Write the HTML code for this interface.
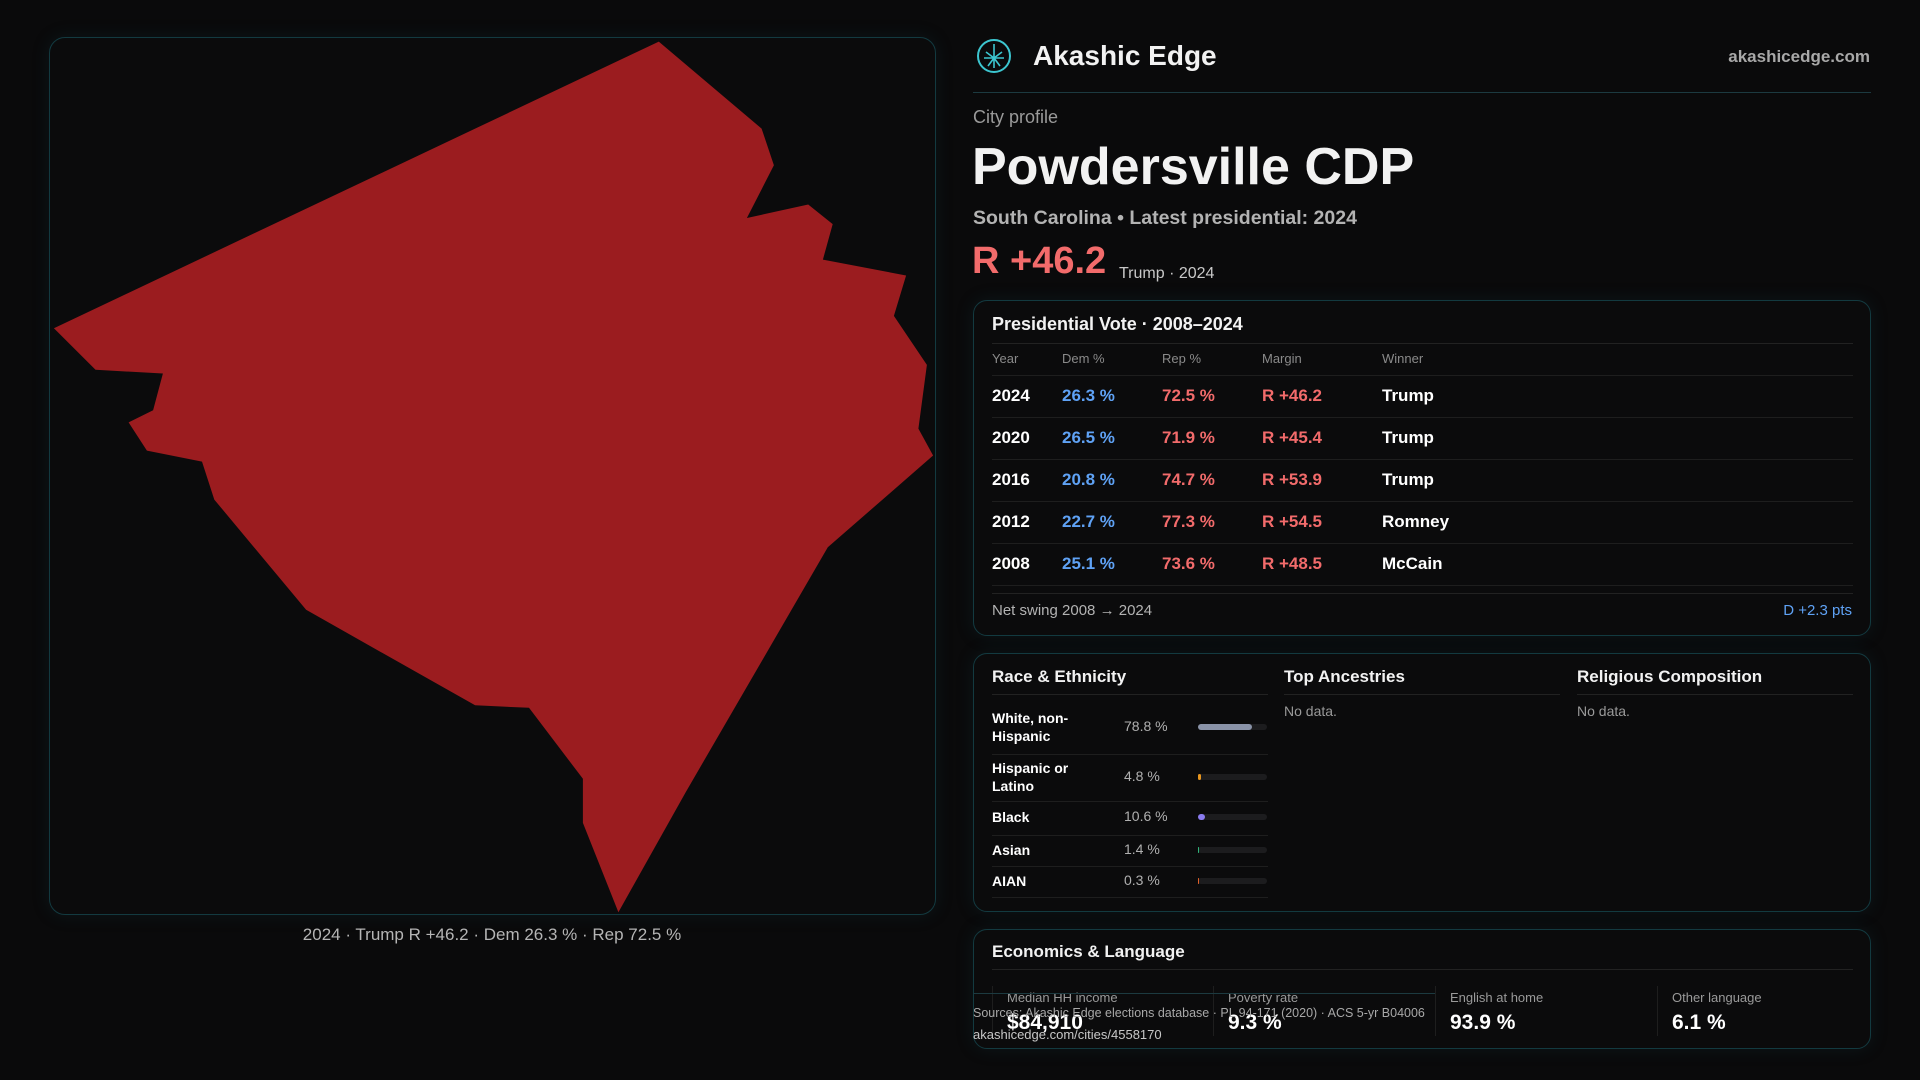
<!DOCTYPE html>
<html><head><meta charset="utf-8">
<style>
*{box-sizing:border-box;margin:0;padding:0}
body{width:1920px;height:1080px;background:#0a0a0b;font-family:"Liberation Sans",sans-serif;color:#f2f2f2;position:relative;overflow:hidden}
.abs{position:absolute;white-space:nowrap}
.panel{position:absolute;border:1px solid #133a40;border-radius:14px;background:#0b0b0c;box-shadow:0 0 18px rgba(20,80,90,.18)}
.red{color:#f26b6b}.blue{color:#5fa2f5}.mut{color:#9a9a9a}
</style></head><body>
<div class="panel" style="left:49px;top:37px;width:887px;height:878px;border-radius:16px"></div>
<svg class="abs" style="left:0;top:0" width="960" height="930">
<polygon id="shape" fill="#9b1c1f"/>
</svg>
<div class="abs mut" style="left:492px;top:925px;transform:translateX(-50%);font-size:17px;color:#b5b5b5">2024 · Trump R +46.2 · Dem 26.3 % · Rep 72.5 %</div>

<svg class="abs" style="left:976px;top:38px" width="36" height="36" viewBox="0 0 36 36"><circle cx="18" cy="18" r="16" fill="none" stroke="#3cc6d0" stroke-width="2"/><path d="M18 6v24M10 14l8 6 8-6M12 28l6-8 6 8M8 20h20" stroke="#3cc6d0" stroke-width="1.6" fill="none"/></svg>
<div class="abs" style="left:1033px;top:40px;font-size:28px;font-weight:bold">Akashic Edge</div>
<div class="abs mut" style="right:50px;top:47px;font-size:17px;font-weight:bold;color:#a8a8a8">akashicedge.com</div>
<div class="abs" style="left:973px;top:92px;width:898px;height:1px;background:#1c3a40"></div>
<div class="abs mut" style="left:973px;top:107px;font-size:18px">City profile</div>
<div class="abs" style="left:972px;top:137px;font-size:52px;font-weight:bold">Powdersville CDP</div>
<div class="abs" style="left:973px;top:207px;font-size:19.5px;font-weight:bold;color:#b3b3b3">South Carolina • Latest presidential: 2024</div>
<div class="abs red" style="left:972px;top:240px;font-size:38px;font-weight:bold">R +46.2</div>
<div class="abs" style="left:1119px;top:265px;font-size:16px;color:#c8c8c8">Trump · 2024</div>

<div class="panel" style="left:973px;top:300px;width:898px;height:336px"></div>
<div class="abs" style="left:992px;top:314px;font-size:18px;font-weight:bold">Presidential Vote · 2008–2024</div>
<div class="abs" style="left:992px;top:343px;width:861px;height:1px;background:#222"></div>
<div id="tbl"></div>
<div class="abs" style="left:992px;top:593px;width:861px;height:1px;background:#222"></div>
<div class="abs" style="left:992px;top:602px;font-size:15px;color:#b3b3b3">Net swing 2008 → 2024</div>
<div class="abs blue" style="right:68px;top:602px;font-size:15px">D +2.3 pts</div>

<div class="panel" style="left:973px;top:653px;width:898px;height:259px"></div>
<div class="abs" style="left:992px;top:667px;font-size:17px;font-weight:bold">Race &amp; Ethnicity</div>
<div class="abs" style="left:1284px;top:667px;font-size:17px;font-weight:bold">Top Ancestries</div>
<div class="abs" style="left:1577px;top:667px;font-size:17px;font-weight:bold">Religious Composition</div>
<div class="abs" style="left:992px;top:694px;width:276px;height:1px;background:#222"></div>
<div class="abs" style="left:1284px;top:694px;width:276px;height:1px;background:#222"></div>
<div class="abs" style="left:1577px;top:694px;width:276px;height:1px;background:#222"></div>
<div class="abs mut" style="left:1284px;top:703px;font-size:14px">No data.</div>
<div class="abs mut" style="left:1577px;top:703px;font-size:14px">No data.</div>
<div id="race"></div>

<div class="panel" style="left:973px;top:929px;width:898px;height:120px"></div>
<div class="abs" style="left:992px;top:942px;font-size:17px;font-weight:bold">Economics &amp; Language</div>
<div class="abs" style="left:992px;top:969px;width:861px;height:1px;background:#222"></div>
<div id="econ"></div>
<div class="abs" style="left:973px;top:993px;width:462px;height:1px;background:#1c3a40"></div>
<div class="abs" style="left:973px;top:1006px;font-size:12.5px;color:#a8a8a8">Sources: Akashic Edge elections database · PL 94-171 (2020) · ACS 5-yr B04006</div>
<div class="abs" style="left:973px;top:1027px;font-size:13px;color:#c8c8c8">akashicedge.com/cities/4558170</div>

<script>
const mapX=[538,622,632,610,660,680,672,740,730,757,750,762,676,560,505,476,476,432,388,250,175,165,120,105,125,133,78,44];
const mapY=[34,105,135,178,167,183,212,225,258,298,350,372,447,647,745,672,636,578,576,498,408,377,368,345,335,305,302,268];
const years=["2024","2020","2016","2012","2008"];
const demPct=[26.3,26.5,20.8,22.7,25.1];
const repPct=[72.5,71.9,74.7,77.3,73.6];
const margins=["R +46.2","R +45.4","R +53.9","R +54.5","R +48.5"];
const winners=["Trump","Trump","Trump","Romney","McCain"];
const raceLabels=["White, non-<br>Hispanic","Hispanic or<br>Latino","Black","Asian","AIAN"];
const raceValues=[78.8,4.8,10.6,1.4,0.3];
const raceColors=["#8a93a8","#e8961e","#8b7cf0","#2fb57a","#e0602a"];
const econLabels=["Median HH income","Poverty rate","English at home","Other language"];
const econValues=["$84,910","9.3 %","93.9 %","6.1 %"];

const S=1920/1568;
document.getElementById('shape').setAttribute('points',mapX.map((x,i)=>(x*S).toFixed(1)+','+(mapY[i]*S).toFixed(1)).join(' '));

function mk(parent,css,html){const d=document.createElement('div');d.className='abs';d.style.cssText=css;d.innerHTML=html;parent.appendChild(d);return d;}
const tbl=document.getElementById('tbl');
const hx=[992,1062,1162,1262,1382],hn=["Year","Dem %","Rep %","Margin","Winner"];
hn.forEach((h,i)=>{const d=mk(tbl,`left:${hx[i]}px;top:351px;font-size:13px;color:#8a8a8a`,h);

});
const hl=mk(tbl,'left:992px;top:375px;width:861px;height:1px;background:#1e1e1e','');


years.forEach((y,i)=>{const top=386+i*42;
const cells=[[y,'#fff'],[demPct[i].toFixed(1)+' %','#5fa2f5'],[repPct[i].toFixed(1)+' %','#f26b6b'],[margins[i],'#f26b6b'],[winners[i],'#fff']];
cells.forEach((c,j)=>{const d=mk(tbl,`left:${hx[j]}px;top:${top}px;font-size:17px;font-weight:bold;color:${c[1]}`,c[0]);

});
const l=mk(tbl,`left:992px;top:${top+31}px;width:861px;height:1px;background:#1e1e1e`,'');

});

const race=document.getElementById('race');
const rowTop=[702,754,801,835,866],rowH=[52,47,34,31,31];
raceLabels.forEach((lab,i)=>{const t=rowTop[i],h=rowH[i],c=t+h/2;
const a=mk(race,`left:992px;top:${c-(lab.includes('<br>')?19:10)}px;font-size:14px;font-weight:bold;line-height:18px;color:#fff`,lab);


const b=mk(race,`left:1124px;top:${c-10}px;font-size:14px;color:#b0b0b0`,raceValues[i].toFixed(1)+' %');


const tr=mk(race,`left:1198px;top:${c-4}px;width:69px;height:6px;border-radius:3px;background:#1c1c1e`,'');


const f=mk(race,`left:1198px;top:${c-4}px;width:${Math.max(1,raceValues[i]/100*69)}px;height:6px;border-radius:3px;background:${raceColors[i]}`,'');


const l=mk(race,`left:992px;top:${t+h}px;width:276px;height:1px;background:#1e1e1e`,'');

});

const econ=document.getElementById('econ');
const ex=[992,1213,1435,1657];
econLabels.forEach((lab,i)=>{
const dv=mk(econ,`left:${ex[i]}px;top:986px;width:1px;height:50px;background:#1e1e1e`,'');


const a=mk(econ,`left:${ex[i]+15}px;top:990px;font-size:13px;color:#9a9a9a`,lab);


const b=mk(econ,`left:${ex[i]+15}px;top:1011px;font-size:21px;font-weight:bold;color:#fff`,econValues[i]);

});
</script>
</body></html>
